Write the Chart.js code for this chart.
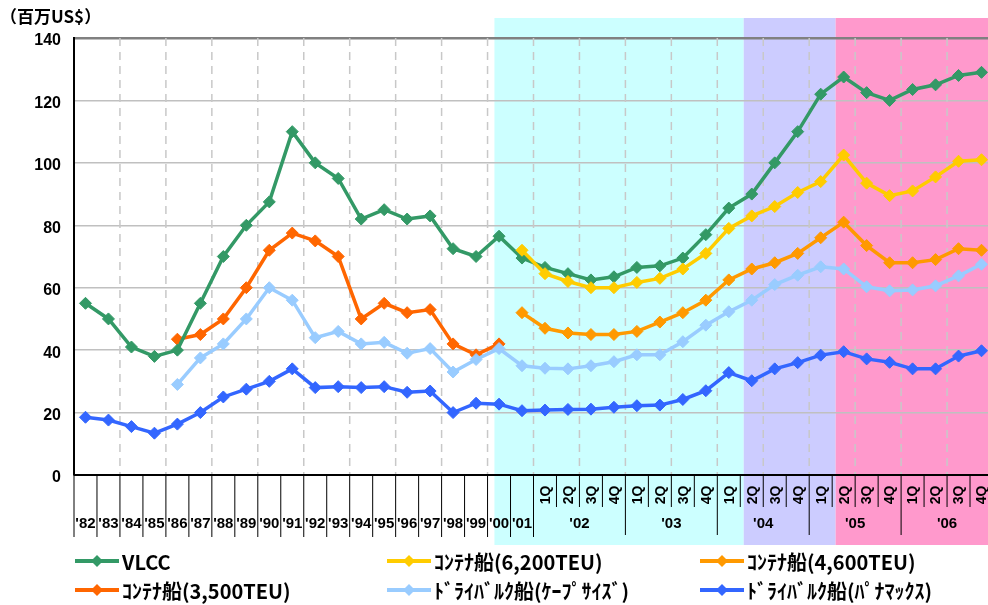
<!DOCTYPE html>
<html>
<head>
<meta charset="utf-8">
<script src="https://cdn.jsdelivr.net/npm/chart.js@4.4.1/dist/chart.umd.min.js"></script>
<style>
  html, body { margin: 0; padding: 0; background: #fff; width: 988px; height: 605px; overflow: hidden; }
  #wrap { position: relative; width: 1000px; height: 605px; }
  #unit { position: absolute; left: 0px; top: 3px; font: bold 17px "Noto Sans CJK JP"; color: #000; }
  .leg { position: absolute; height: 24px; display: flex; align-items: center; white-space: nowrap;
         font: bold 20px "Noto Sans CJK JP"; color: #000; }
  .leg svg { margin-right: 3px; }
</style>
</head>
<body>
<div id="wrap">
  <canvas id="chart" width="1000" height="605"></canvas>
  <div id="unit">（百万US$）</div>
  <div id="legend"></div>
</div>
<script>
// ── Data ──────────────────────────────────────────────────────────────────────
const yearCats    = ["'82","'83","'84","'85","'86","'87","'88","'89","'90","'91",
                     "'92","'93","'94","'95","'96","'97","'98","'99","'00","'01"];
const quarterYears = ["'02","'03","'04","'05","'06"];
const quarterCats  = ['1Q','2Q','3Q','4Q'];
const yTicks = [0, 20, 40, 60, 80, 100, 120, 140];

const vlcc = [55, 50, 41, 38, 40, 55, 70, 80, 87.5, 110,
              100, 95, 82, 85, 82, 83, 72.5, 70, 76.5, 69.5,
              66.5, 64.5, 62.5, 63.5, 66.5, 67, 69.5, 77,
              85.5, 90, 100, 110, 122, 127.5, 122.5, 120,
              123.5, 125, 128, 129];

const teu6200 = [null, null, null, null, null, null, null, null, null, null,
                 null, null, null, null, null, null, null, null, null, 72,
                 64.5, 62, 60, 60, 61.7, 63, 66, 71,
                 79, 83, 86, 90.5, 94, 102.5, 93.5, 89.5,
                 91, 95.5, 100.5, 101];

const teu4600 = [null, null, null, null, null, null, null, null, null, null,
                 null, null, null, null, null, null, null, null, null, 52,
                 47, 45.5, 45, 45, 46, 49, 52, 56,
                 62.5, 66, 68, 71, 76, 81, 73.5, 68,
                 68, 69, 72.5, 72];

const teu3500 = [null, null, null, null, 43.5, 45, 50, 60, 72, 77.5,
                 75, 70, 50, 55, 52, 53, 42, 38.5, 42, null,
                 null, null, null, null, null, null, null, null,
                 null, null, null, null, null, null, null, null,
                 null, null, null, null];

const cape = [null, null, null, null, 29, 37.5, 42, 50, 60, 56,
              44, 46, 42, 42.5, 39, 40.5, 33, 37, 40.5, 35,
              34.2, 34, 35, 36.3, 38.5, 38.5, 42.7, 48,
              52.3, 56, 61, 64, 66.7, 66, 60.3, 59,
              59.3, 60.6, 63.8, 67.5];

const panamax = [18.5, 17.6, 15.5, 13.4, 16.3, 20, 25, 27.5, 30, 34,
                 28, 28.3, 28, 28.3, 26.5, 26.9, 20, 23, 22.7, 20.6,
                 20.8, 21, 21.1, 21.7, 22.2, 22.4, 24.2, 27,
                 32.8, 30.2, 34, 36, 38.4, 39.5, 37.2, 36.1,
                 34, 34, 38.1, 39.8];

const seriesNames = ['VLCC', 'ｺﾝﾃﾅ船(6,200TEU)', 'ｺﾝﾃﾅ船(4,600TEU)',
                     'ｺﾝﾃﾅ船(3,500TEU)', 'ﾄﾞﾗｲﾊﾞﾙｸ船(ｹｰﾌﾟｻｲｽﾞ)', 'ﾄﾞﾗｲﾊﾞﾙｸ船(ﾊﾟﾅﾏｯｸｽ)'];
const seriesData   = [vlcc, teu6200, teu4600, teu3500, cape, panamax];
const seriesColors = ['#339966', '#FFCC00', '#FF9900', '#FF6600', '#99CCFF', '#3366FF'];

// ── Style / layout ────────────────────────────────────────────────────────────
// background bands, in category boundaries (0 = left edge of '82)
const bands = [
  { from: 18.3,  to: 29.15, color: '#CCFFFF' },
  { from: 29.15, to: 33.15, color: '#CCCCFF' },
  { from: 33.15, to: 40,    color: '#FF99CC' }
];
const BAND_TOP = 18, BAND_BOTTOM = 545;
const legendPos = [[75, 549], [387, 549], [700, 549], [75, 578], [387, 578], [700, 578]];

const labels = yearCats.concat(...quarterYears.map(y => quarterCats.map(q => y + ' ' + q)));

// ── Decoration plugin (bands, dashed grid, two-level x axis) ───────────────────
const decor = {
  id: 'decor',
  beforeDraw(chart) {
    const { ctx, scales: { x } } = chart;
    const w = x.getPixelForValue(1) - x.getPixelForValue(0);
    const edge = b => x.getPixelForValue(0) + (b - 0.5) * w;
    ctx.save();
    bands.forEach(b => {
      ctx.fillStyle = b.color;
      ctx.fillRect(edge(b.from), BAND_TOP, edge(b.to) - edge(b.from), BAND_BOTTOM - BAND_TOP);
    });
    ctx.restore();
  },
  beforeDatasetsDraw(chart) {
    const { ctx, chartArea: a, scales: { x } } = chart;
    const w = x.getPixelForValue(1) - x.getPixelForValue(0);
    const edge = b => x.getPixelForValue(0) + (b - 0.5) * w;
    const n = labels.length;
    ctx.save();
    ctx.strokeStyle = '#c8c8c8';
    ctx.lineWidth = 1.5;
    ctx.setLineDash([8, 6]);
    for (let b = 2; b < n; b += 2) {
      ctx.beginPath(); ctx.moveTo(edge(b), a.top); ctx.lineTo(edge(b), a.bottom); ctx.stroke();
    }
    ctx.setLineDash([]);

    // x axis line and ticks
    ctx.strokeStyle = '#000';
    ctx.lineWidth = 2;
    ctx.beginPath(); ctx.moveTo(a.left, a.bottom); ctx.lineTo(a.right, a.bottom); ctx.stroke();
    ctx.lineWidth = 1;
    const tick = (b, y2) => { ctx.beginPath(); ctx.moveTo(edge(b), a.bottom); ctx.lineTo(edge(b), y2); ctx.stroke(); };
    for (let b = 0; b <= yearCats.length; b++) tick(b, 537);
    for (let q = 1; q <= quarterYears.length * 4; q++) tick(yearCats.length + q, q % 4 === 0 ? 535 : 507);

    // labels
    ctx.fillStyle = '#000';
    ctx.textAlign = 'center';
    ctx.textBaseline = 'middle';
    ctx.font = 'bold 15px "Liberation Sans", Arial, sans-serif';
    yearCats.forEach((t, i) => ctx.fillText(t, x.getPixelForValue(i), 524));
    quarterYears.forEach((t, k) => ctx.fillText(t, edge(yearCats.length + k * 4 + 2), 524));
    ctx.font = 'bold 14px "Liberation Sans", Arial, sans-serif';
    for (let k = 0; k < quarterYears.length * 4; k++) {
      const cx = x.getPixelForValue(yearCats.length + k);
      ctx.save();
      ctx.translate(cx, 495);
      ctx.rotate(-Math.PI / 2);
      ctx.fillText(quarterCats[k % 4], 0, 1);
      ctx.restore();
    }
    ctx.restore();
  }
};

// ── Chart ─────────────────────────────────────────────────────────────────────
new Chart(document.getElementById('chart'), {
  type: 'line',
  data: {
    labels: labels,
    datasets: seriesData.map((d, i) => ({
      label: seriesNames[i],
      data: d,
      borderColor: seriesColors[i],
      backgroundColor: seriesColors[i],
      borderWidth: 3.5,
      pointStyle: 'rectRot',
      pointRadius: 6,
      pointBorderWidth: 1,
      tension: 0,
      spanGaps: false,
      order: [3, 2, 4, 5, 1, 0][i]
    }))
  },
  options: {
    responsive: false,
    animation: false,
    layout: { padding: { left: 0, right: 5, top: 38, bottom: 130 } },
    plugins: { legend: { display: false }, tooltip: { enabled: false } },
    scales: {
      x: {
        type: 'category',
        offset: true,
        grid: { display: false },
        border: { display: false },
        ticks: { display: false },
        afterFit: s => { s.height = 0; }
      },
      y: {
        min: 0, max: 140,
        afterBuildTicks: s => { s.ticks = yTicks.map(v => ({ value: v })); },
        afterFit: s => { s.width = 74; },
        border: { color: '#000', width: 2 },
        grid: {
          drawTicks: false,
          color: c => c.tick && c.tick.value === 140 ? '#808080' : '#c0c0c0',
          lineWidth: c => c.tick && c.tick.value === 140 ? 2.5 : 1.5
        },
        ticks: {
          padding: 13,
          labelOffset: 3,
          color: '#000',
          font: { family: '"Liberation Sans", Arial, sans-serif', weight: 'bold', size: 16 }
        }
      }
    }
  },
  plugins: [decor]
});

// ── Legend ────────────────────────────────────────────────────────────────────
const legendEl = document.getElementById('legend');
seriesNames.forEach((name, i) => {
  const c = seriesColors[i];
  const el = document.createElement('div');
  el.className = 'leg';
  el.style.left = legendPos[i][0] + 'px';
  el.style.top = legendPos[i][1] + 'px';
  el.innerHTML = '<svg width="44" height="14"><line x1="0" y1="7" x2="44" y2="7" stroke="' + c +
    '" stroke-width="4"/><polygon points="22,1 28,7 22,13 16,7" fill="' + c + '"/></svg><span>' + name + '</span>';
  legendEl.appendChild(el);
});
</script>
</body>
</html>
